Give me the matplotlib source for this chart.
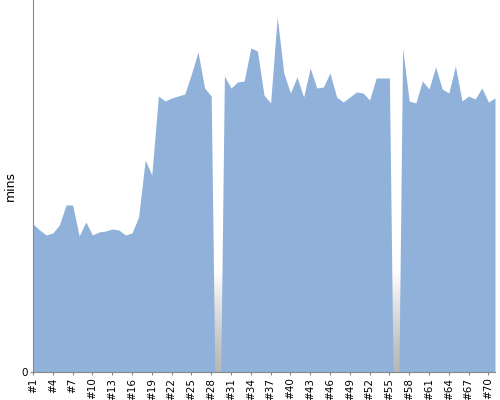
import numpy as np
import matplotlib
matplotlib.use('Agg')
import matplotlib.pyplot as plt

# in pixels above the baseline (None = no run)
runs = list(range(1, 72))
height_px = [148, 142, 137, 139, 147, 167, 167, 136, 150, 137,
             140, 141, 143, 142, 137, 139, 155, 212, 197, 276,
             271, 274, 276, 278, 298, 320, 284, 276, None, 296,
             284, 290, 291, 324, 321, 277, 269, 355, 299, 279,
             295, 275, 304, 284, 285, 299, 275, 270, 275, 280,
             279, 272, 294, 294, 294, None, 324, 271, 269, 291,
             283, 305, 283, 279, 306, 271, 276, 273, 284, 270, 274]
mins = np.array([np.nan if h is None else h / 3.72 for h in height_px])
tick_runs = runs[::3]
tick_labels = ['#%d' % r for r in tick_runs]

# missing runs: area drops to the baseline just either side
xs, ys = [], []
for r, m in zip(runs, mins):
    if np.isnan(m):
        xs += [r - 0.45, r + 0.45]
        ys += [0, 0]
    else:
        xs.append(r)
        ys.append(m)

fig = plt.figure(figsize=(5, 4), dpi=100)
ax = fig.add_axes([0.066, 0.07, 0.924, 0.93])

# grey fade behind the area, only seen in the gaps
grad = np.linspace(0, 1, 256).reshape(-1, 1) ** 1.3
ax.imshow(grad, cmap='gray', vmin=-2.6, vmax=1, aspect='auto',
          extent=[1, 71, 0, 27], origin='lower', zorder=0)

ax.fill_between(xs, ys, 0, color='#8fb1da', lw=0, zorder=1)

ax.set_xlim(1, 71)
ax.set_ylim(0, 100)
ax.set_yticks([0])
ax.set_xticks(tick_runs)
ax.set_xticklabels(tick_labels, rotation=90)
ax.tick_params(labelsize=7.5, length=2, pad=2, color='#888888', colors='black')
for s in ['top', 'right']:
    ax.spines[s].set_visible(False)
for s in ['left', 'bottom']:
    ax.spines[s].set_color('#888888')
ax.set_ylabel('mins', fontsize=9)
ax.yaxis.set_label_coords(-0.035, 0.5)

plt.savefig('out.png')
